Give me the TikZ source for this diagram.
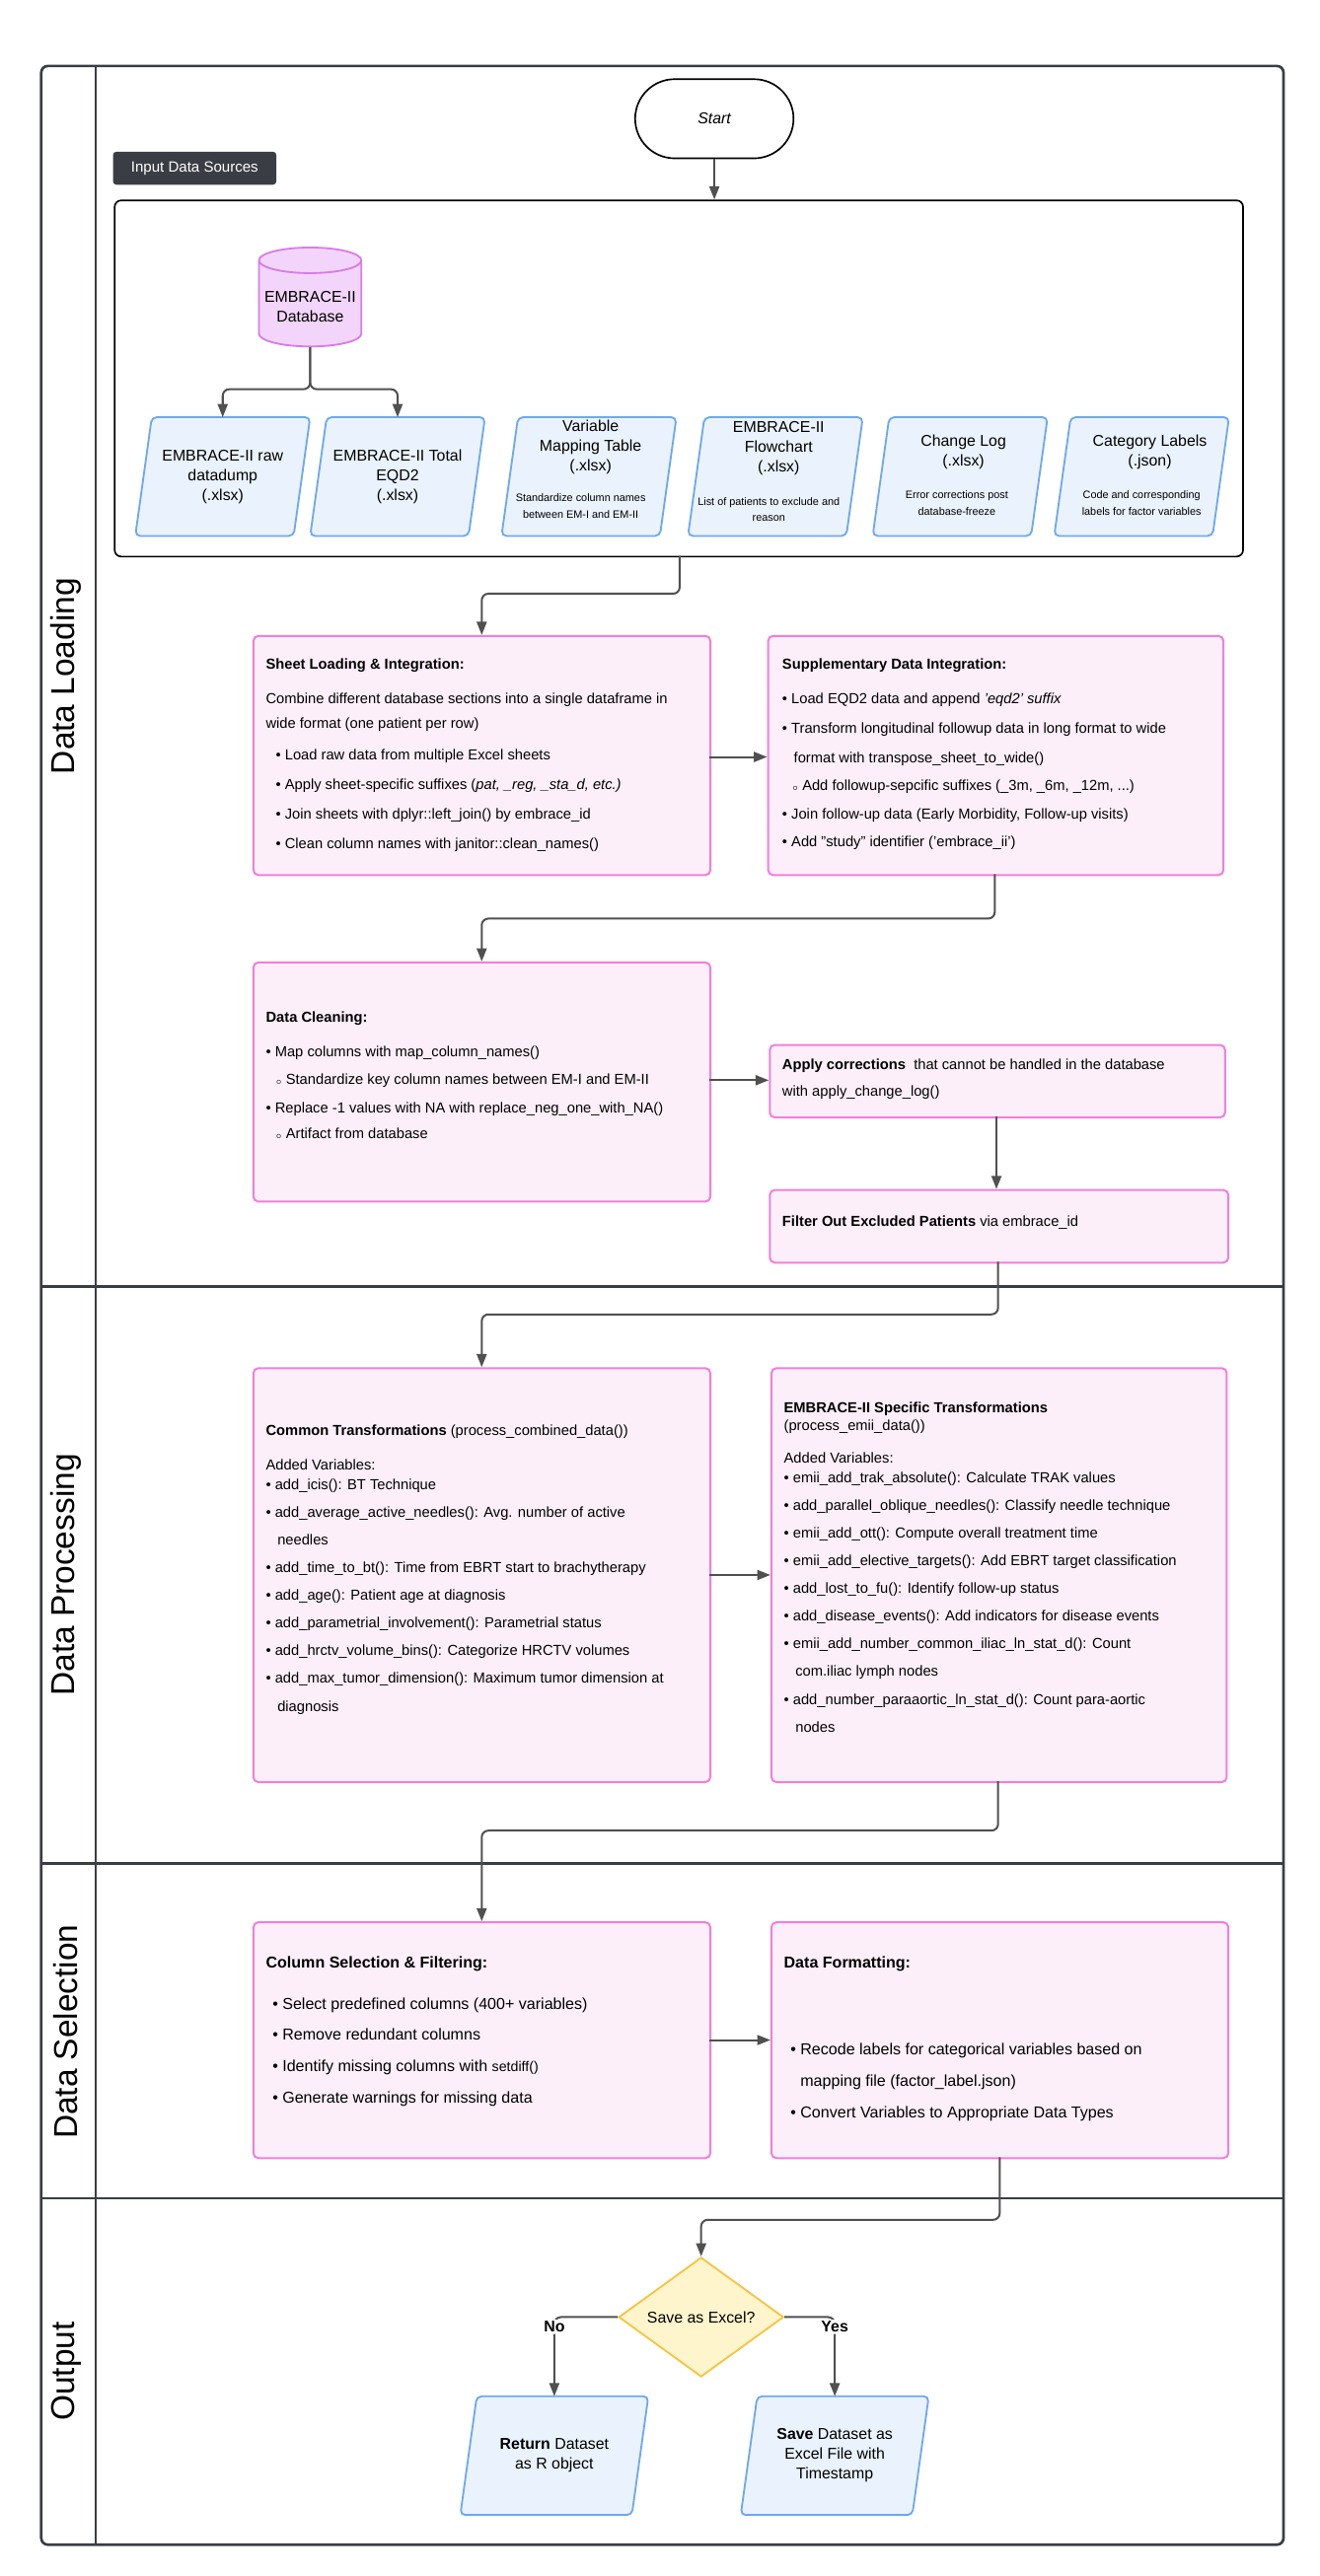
\documentclass[tikz,border=0pt]{standalone}
\usepackage{fontspec}
\setmainfont{Liberation Sans}
\usetikzlibrary{shapes.geometric,arrows.meta,positioning}
\definecolor{pinkF}{HTML}{FDEFFA}
\definecolor{pinkD}{HTML}{F07FDB}
\definecolor{blueF}{HTML}{EAF3FD}
\definecolor{blueD}{HTML}{6EA8F0}
\definecolor{violF}{HTML}{F3D5FB}
\definecolor{violD}{HTML}{D77CE8}
\definecolor{yelF}{HTML}{FFF5CC}
\definecolor{yelD}{HTML}{F5C542}
\definecolor{lineC}{HTML}{505050}
\definecolor{frameC}{HTML}{3A3D44}
\tikzset{
 pbox/.style={draw=pinkD,fill=pinkF,line width=1.2pt,rounded corners=3pt,anchor=north west,inner sep=0pt},
 paratxt/.style={align=center,inner sep=0pt,font=\fontsize{9.5}{12}\selectfont},
 txt/.style={anchor=north west,align=left,inner sep=0pt,font=\fontsize{8.8}{17}\selectfont},
 arr/.style={draw=lineC,line width=1.2pt,-{Triangle[length=8pt,width=6pt]},rounded corners=4pt},
 lane/.style={rotate=90,font=\fontsize{20}{24}\selectfont},
}
% \paral{name}{cx}{cy}{w}{h}
\newcommand{\paral}[5]{%
 \coordinate (#1) at (#2,#3);
 \draw[draw=blueD,fill=blueF,line width=1.1pt,rounded corners=3pt]
  ([xshift=-#4/2+5pt,yshift=#5/2]#1) -- ([xshift=#4/2+5pt,yshift=#5/2]#1) --
  ([xshift=#4/2-5pt,yshift=-#5/2]#1) -- ([xshift=-#4/2-5pt,yshift=-#5/2]#1) -- cycle;
 \coordinate (#1-n) at ([yshift=#5/2]#1);}
\newcommand{\bl}{\textbullet\ }
\newcommand{\sbl}{\hspace*{6pt}{\tiny$\circ$}\ }
\begin{document}
\begin{tikzpicture}[x=1pt,y=-1pt]
\useasboundingbox (0,0) rectangle (800,1562);
\fill[white] (0,0) rectangle (800,1562);
% frame
\draw[frameC,line width=1.6pt,rounded corners=4pt] (25,40) rectangle (778,1543);
\draw[frameC,line width=1.6pt] (58,40) -- (58,1543);
\foreach \y in {780,1130,1333} \draw[frameC,line width=1.6pt] (25,\y) -- (778,\y);
\node[lane] at (40,410) {Data Loading};
\node[lane] at (40,955) {Data Processing};
\node[lane] at (40,1232) {Data Selection};
\node[lane] at (40,1438) {Output};
% start
\node[draw=black,line width=1pt,rounded corners=24pt,minimum width=96pt,minimum height=48pt,font=\itshape\fontsize{9.5}{12}\selectfont] (start) at (433,72) {Start};
\node[fill=frameC,text=white,rounded corners=2pt,minimum width=99pt,minimum height=20pt,font=\fontsize{9}{11}\selectfont] (isrc) at (118,102) {Input Data Sources};
\node[draw=black,line width=1pt,rounded corners=4pt,minimum width=684pt,minimum height=216pt,anchor=north west,inner sep=0pt] (inputs) at (69,121) {};
\draw[arr] (start.south) -- (inputs.north -| start.south);
% database
\node[cylinder,shape border rotate=90,aspect=0.25,draw=violD,fill=violF,line width=1.1pt,minimum width=60pt,minimum height=60pt,align=center,font=\fontsize{9.5}{12}\selectfont] (db) at (188,186) {EMBRACE-II\\Database};
\paral{p1}{135}{289}{96}{72}
\paral{p2}{241}{289}{96}{72}
\paral{p3}{357}{289}{96}{72}
\paral{p4}{470}{289}{96}{72}
\paral{p5}{582}{289}{96}{72}
\paral{p6}{692}{289}{96}{72}
\node[paratxt] at (135,289) {EMBRACE-II raw\\datadump\\(.xlsx)};
\node[paratxt] at (241,289) {EMBRACE-II Total\\EQD2\\(.xlsx)};
\node[paratxt] at (358,271) {Variable\\Mapping Table\\(.xlsx)};
\node[paratxt,font=\fontsize{6.5}{10}\selectfont] at (352,307) {Standardize column names\\between EM-I and EM-II};
\node[paratxt] at (472,272) {EMBRACE-II\\Flowchart\\(.xlsx)};
\node[paratxt,font=\fontsize{6.5}{10}\selectfont] at (466,309) {List of patients to exclude and\\reason};
\node[paratxt] at (584,274) {Change Log\\(.xlsx)};
\node[paratxt,font=\fontsize{6.5}{10}\selectfont] at (580,305) {Error corrections post\\database-freeze};
\node[paratxt] at (697,274) {Category Labels\\(.json)};
\node[paratxt,font=\fontsize{6.5}{10}\selectfont] at (692,305) {Code and corresponding\\labels for factor variables};
\draw[arr] (db.south) -- (188,236) -| (p1-n);
\draw[arr] (db.south) -- (188,236) -| (p2-n);
% boxes
\node[pbox,minimum width=277pt,minimum height=145pt] (sheet) at (153,385) {};
\node[pbox,minimum width=276pt,minimum height=145pt] (supp) at (465,385) {};
\node[pbox,minimum width=277pt,minimum height=145pt] (clean) at (153,583) {};
\node[pbox,minimum width=276pt,minimum height=44pt] (apply) at (466,633) {};
\node[pbox,minimum width=278pt,minimum height=44pt] (filt) at (466,721) {};
\node[pbox,minimum width=277pt,minimum height=251pt] (common) at (153,829) {};
\node[pbox,minimum width=276pt,minimum height=251pt] (emii) at (467,829) {};
\node[pbox,minimum width=277pt,minimum height=143pt] (colsel) at (153,1165) {};
\node[pbox,minimum width=277pt,minimum height=143pt] (fmt) at (467,1165) {};
% texts
\node[txt] at (161,399) {\textbf{Sheet Loading \& Integration:}\\[4pt]
Combine different database sections into a single dataframe in\\[-2pt]
wide format (one patient per row)\\[2pt]
\hspace*{6pt}\bl Load raw data from multiple Excel sheets\\[1pt]
\hspace*{6pt}\bl Apply sheet-specific suffixes (\textit{pat, \_reg, \_sta\_d, etc.)}\\[1pt]
\hspace*{6pt}\bl Join sheets with dplyr::left\_join() by embrace\_id\\[1pt]
\hspace*{6pt}\bl Clean column names with janitor::clean\_names()};
\node[txt] at (474,399) {\textbf{Supplementary Data Integration:}\\[4pt]
\bl Load EQD2 data and append \textit{'eqd2' suffix}\\[1pt]
\bl Transform longitudinal followup data in long format to wide\\[1pt]
\hspace*{7pt}format with transpose\_sheet\_to\_wide()\\[0pt]
\sbl Add followup-sepcific suffixes (\_3m, \_6m, \_12m, ...)\\[0pt]
\bl Join follow-up data (Early Morbidity, Follow-up visits)\\[0pt]
\bl Add "study" identifier ('embrace\_ii')};
\node[txt] at (161,613) {\textbf{Data Cleaning:}\\[4pt]
\bl Map columns with map\_column\_names()\\[0pt]
\sbl Standardize key column names between EM-I and EM-II\\[0pt]
\bl Replace -1 values with NA with replace\_neg\_one\_with\_NA()\\[-1pt]
\sbl Artifact from database};
\node[txt] at (474,642) {\textbf{Apply corrections}\ \ that cannot be handled in the database\\[-1pt]with apply\_change\_log()};
\node[txt] at (474,737) {\textbf{Filter Out Excluded Patients} via embrace\_id};
\node[txt,font=\fontsize{8.8}{16.8}\selectfont] at (161,864) {\textbf{Common Transformations} (process\_combined\_data())\\[4pt]
Added Variables:\\[-5pt]
\bl add\_icis(): BT Technique\\
\bl add\_average\_active\_needles(): Avg. number of active\\
\hspace*{7pt}needles\\
\bl add\_time\_to\_bt(): Time from EBRT start to brachytherapy\\
\bl add\_age(): Patient age at diagnosis\\
\bl add\_parametrial\_involvement(): Parametrial status\\
\bl add\_hrctv\_volume\_bins(): Categorize HRCTV volumes\\
\bl add\_max\_tumor\_dimension(): Maximum tumor dimension at\\
\hspace*{7pt}diagnosis};
\node[txt,font=\fontsize{8.8}{16.8}\selectfont] at (475,850) {\textbf{EMBRACE-II Specific Transformations}\\[-6pt]
(process\_emii\_data())\\[3pt]
Added Variables:\\[-5pt]
\bl emii\_add\_trak\_absolute(): Calculate TRAK values\\
\bl add\_parallel\_oblique\_needles(): Classify needle technique\\
\bl emii\_add\_ott(): Compute overall treatment time\\
\bl emii\_add\_elective\_targets(): Add EBRT target classification\\
\bl add\_lost\_to\_fu(): Identify follow-up status\\
\bl add\_disease\_events(): Add indicators for disease events\\
\bl emii\_add\_number\_common\_iliac\_ln\_stat\_d(): Count\\
\hspace*{7pt}com.iliac lymph nodes\\
\bl add\_number\_paraaortic\_ln\_stat\_d(): Count para-aortic\\
\hspace*{7pt}nodes};
\node[txt,font=\fontsize{9.6}{19}\selectfont] at (161,1186) {\textbf{Column Selection \& Filtering:}\\[6pt]
\hspace*{4pt}\bl Select predefined columns (400+ variables)\\
\hspace*{4pt}\bl Remove redundant columns\\
\hspace*{4pt}\bl Identify missing columns with {\fontsize{8.5}{10}\selectfont setdiff()}\\
\hspace*{4pt}\bl Generate warnings for missing data};
\node[txt,font=\fontsize{9.6}{19}\selectfont] at (475,1186) {\textbf{Data Formatting:}\\[34pt]
\hspace*{4pt}\bl Recode labels for categorical variables based on\\
\hspace*{10pt}mapping file (factor\_label.json)\\
\hspace*{4pt}\bl Convert Variables to Appropriate Data Types};
% output
\node[diamond,draw=yelD,fill=yelF,line width=1.1pt,minimum width=100pt,minimum height=70pt,inner sep=0pt,font=\fontsize{9.5}{12}\selectfont] (dec) at (425,1405) {Save as Excel?};
\paral{ret}{336}{1489}{104}{72}
\paral{save}{506}{1489}{104}{72}
\node[paratxt] at (336,1489) {\textbf{Return} Dataset\\as R object};
\node[paratxt] at (506,1489) {\textbf{Save} Dataset as\\Excel File with\\Timestamp};
% connectors
\draw[arr] (412,337) -- (412,360) -| (292,385);
\draw[arr] (430,459) -- (465,459);
\draw[arr] (603,530) -- (603,557) -| (292,583);
\draw[arr] (430,655) -- (466,655);
\draw[arr] (604,677) -- (604,721);
\draw[arr] (605,765) -- (605,797) -| (292,829);
\draw[arr] (430,955) -- (467,955);
\draw[arr] (605,1080) -- (605,1110) -| (292,1165);
\draw[arr] (430,1237) -- (467,1237);
\draw[arr] (606,1308) -- (606,1346) -| (dec.north);
\draw[arr] (dec.west) -| (ret-n) node[pos=0.5,below=1pt,font=\bfseries\fontsize{9.5}{12}\selectfont,fill=white,inner sep=1pt] {No};
\draw[arr] (dec.east) -| (save-n) node[pos=0.5,below=1pt,font=\bfseries\fontsize{9.5}{12}\selectfont,fill=white,inner sep=1pt] {Yes};
\end{tikzpicture}
\end{document}
